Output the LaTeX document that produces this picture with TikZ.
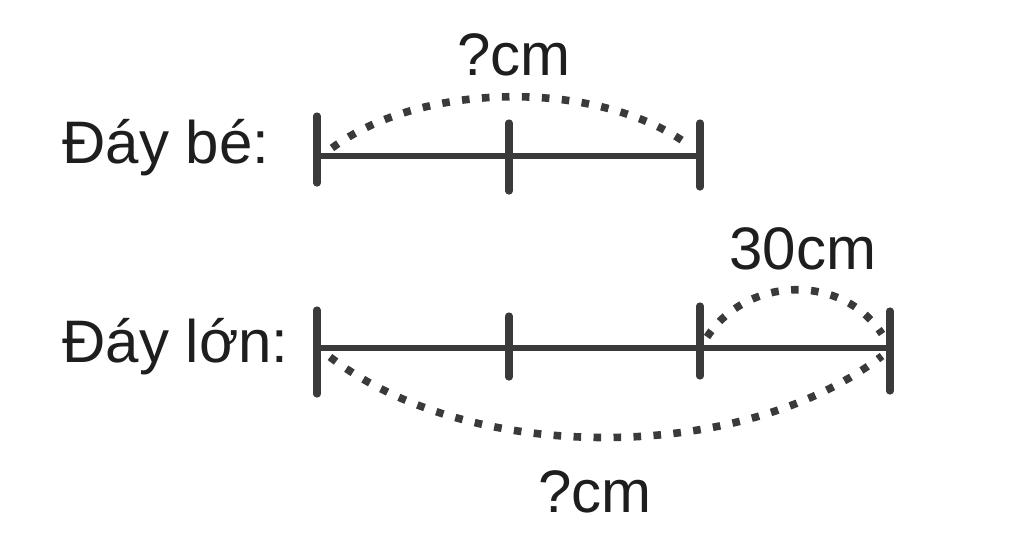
\documentclass[tikz,border=0pt]{standalone}
\usepackage{fontspec}
\setmainfont{Liberation Sans}
\definecolor{ink}{HTML}{3A3A3A}
\definecolor{txt}{HTML}{1E1E1E}
\begin{document}
\begin{tikzpicture}[x=0.5pt,y=-0.5pt,
  label/.style={anchor=base west,inner sep=0pt,font=\fontsize{30pt}{35pt}\selectfont,text=txt},
  bar/.style={draw=ink,line width=3pt},
  tick/.style={draw=ink,line width=3.6pt,line cap=round},
  dots/.style={draw=ink,line width=3.8pt,dash pattern=on 3.8pt off 6.2pt}]
\useasboundingbox (0,0) rectangle (1024,537);
% labels
\node[label] (lb) at (62,163) {Đáy bé:};
\node[label] (ll) at (62,362) {Đáy lớn:};
\node[label] (q1) at (457,75) {?cm};
\node[label] (t30) at (729,269) {30cm};
\node[label] (q2) at (538,512) {?cm};
% top segment
\coordinate (a0) at (317,156);
\coordinate (a1) at (509,156);
\coordinate (a2) at (700,156);
\draw[bar] (a0) -- (a2);
\draw[tick] (317,116) -- (317,183);
\draw[tick] (509,123) -- (509,191);
\draw[tick] (700,123) -- (700,187);
% bottom segment
\coordinate (b0) at (317,348);
\coordinate (b1) at (509,348);
\coordinate (b2) at (700,348);
\coordinate (b3) at (890,348);
\draw[bar] (b0) -- (b3);
\draw[tick] (317,310) -- (317,394);
\draw[tick] (509,316) -- (509,377);
\draw[tick] (700,306) -- (700,376);
\draw[tick] (890,311) -- (890,391);
% dotted arcs
\coordinate (s1) at (332,148);
\coordinate (e1) at (690,146);
\draw[dots] (s1) .. controls (422,81) and (600,79) .. (e1);
\coordinate (s2) at (707,337);
\coordinate (e2) at (882,334);
\draw[dots] (s2) .. controls (747,276) and (842,273) .. (e2);
\coordinate (s3) at (330,357);
\coordinate (e3) at (882,356);
\draw[dots] (s3) .. controls (470,465) and (742,464) .. (e3);
\end{tikzpicture}
\end{document}
